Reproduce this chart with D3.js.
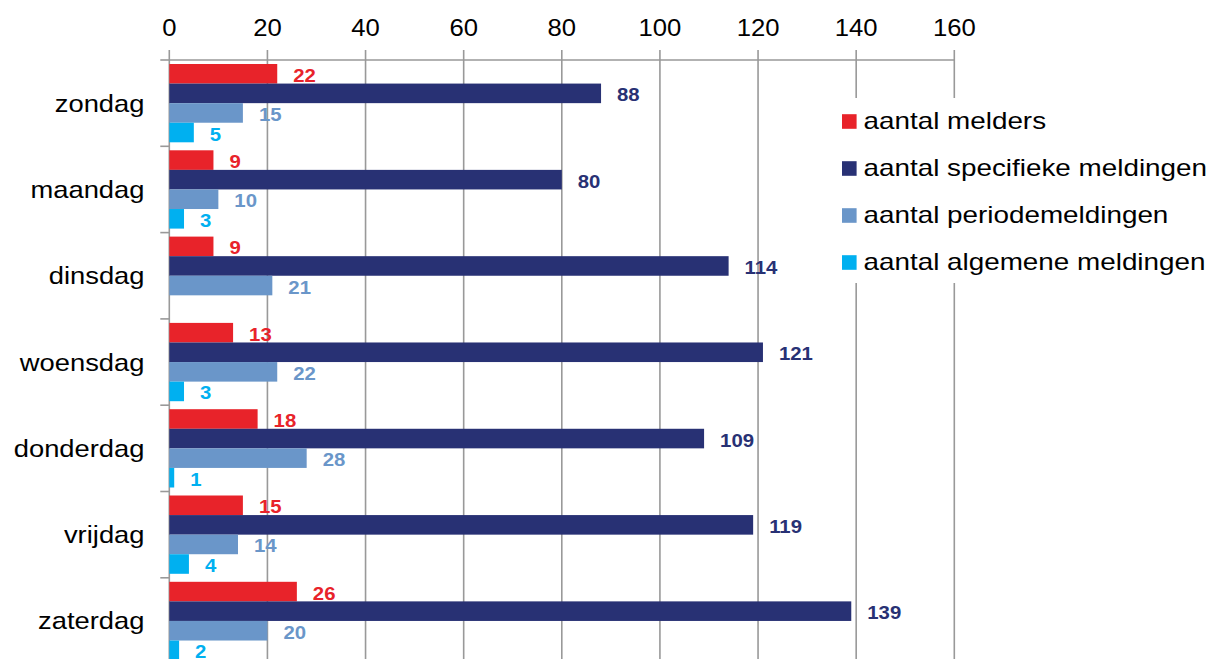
<!DOCTYPE html>
<html><head><meta charset="utf-8">
<script src="https://cdn.jsdelivr.net/npm/d3@7"></script>
<style>
body{margin:0;background:#fff;}
svg{display:block;font-family:"Liberation Sans",Arial,sans-serif;}
</style></head>
<body>
<svg id="chart" width="1226" height="659"></svg>
<script>
const categories = ["zondag","maandag","dinsdag","woensdag","donderdag","vrijdag","zaterdag"];
const seriesNames = ["aantal melders","aantal specifieke meldingen","aantal periodemeldingen","aantal algemene meldingen"];
const melders = [22, 9, 9, 13, 18, 15, 26];
const specifieke = [88, 80, 114, 121, 109, 119, 139];
const periode = [15, 10, 21, 22, 28, 14, 20];
const algemene = [5, 3, null, 3, 1, 4, 2];
const xTicks = [0,20,40,60,80,100,120,140,160];
const colors = ["#E8232A","#283174","#6A96C9","#00B0F0"];

(function(){
const seriesValues = [melders, specifieke, periode, algemene];
const svg = d3.select("#chart");
const plotLeft = 169.3, plotRight = 954.3, plotTop = 60, bandH = 86.3;
const x = d3.scaleLinear().domain([0,160]).range([plotLeft,plotRight]);
const y = d3.scaleBand().domain(categories).range([plotTop, plotTop + bandH*categories.length]).padding(0);
const inner = d3.scaleBand().domain(d3.range(4)).range([4, y.bandwidth()-4]).padding(0);

// gridlines
svg.append("g").selectAll("line").data(xTicks).join("line")
  .attr("x1", d=>x(d)).attr("x2", d=>x(d))
  .attr("y1", plotTop-10).attr("y2", 680)
  .attr("stroke", "#999").attr("stroke-width", 1.6);
// top axis line
svg.append("line").attr("x1", plotLeft).attr("x2", plotRight).attr("y1", plotTop).attr("y2", plotTop)
  .attr("stroke","#999").attr("stroke-width",1.6);
// y axis ticks
const yb = d3.range(categories.length+1).map(i => plotTop + i*bandH);
svg.append("g").selectAll("line").data(yb).join("line")
  .attr("x1", plotLeft-9).attr("x2", plotLeft).attr("y1", d=>d).attr("y2", d=>d)
  .attr("stroke","#999").attr("stroke-width",1.6);

// tick labels
svg.append("g").selectAll("text").data(xTicks).join("text")
  .attr("transform", d=>`translate(${x(d)},36) scale(1.07,1)`).attr("text-anchor","middle")
  .attr("font-size", 24).attr("fill","#000").text(d=>d);

// category labels
svg.append("g").selectAll("text").data(categories).join("text")
  .attr("transform", d=>`translate(144.5,${y(d)+y.bandwidth()/2+8.5}) scale(1.14,1)`).attr("text-anchor","end")
  .attr("font-size", 24).attr("fill","#000").text(d=>d);

// bars
const flat = [];
categories.forEach((c,ci)=>seriesValues.forEach((arr,si)=>{ if(arr[ci]!=null) flat.push({c, si, v:arr[ci]}); }));
svg.append("g").selectAll("rect").data(flat).join("rect")
  .attr("x", x(0)).attr("y", d=>y(d.c)+inner(d.si))
  .attr("width", d=>x(d.v)-x(0)).attr("height", inner.bandwidth())
  .attr("fill", d=>colors[d.si]);
svg.append("g").selectAll("text").data(flat).join("text")
  .attr("transform", d=>`translate(${x(d.v)+16},${y(d.c)+inner(d.si)+inner.bandwidth()/2+8}) scale(1.1,1)`)
  .attr("font-size", 18.5).attr("font-weight","bold").attr("fill", d=>colors[d.si]).text(d=>d.v);

// legend
svg.append("rect").attr("x", 836).attr("y", 98).attr("width", 390).attr("height", 185).attr("fill","#fff");
const lg = svg.append("g").selectAll("g").data(seriesNames).join("g")
  .attr("transform", (d,i)=>`translate(842,${121.5 + i*47})`);
lg.append("rect").attr("x",0).attr("y",-7.3).attr("width",14.6).attr("height",14.6).attr("fill",(d,i)=>colors[i]);
lg.append("text").attr("transform","translate(21.5,7.8) scale(1.16,1)").attr("font-size",24).attr("fill","#000").text(d=>d);
})();
</script>
</body></html>
